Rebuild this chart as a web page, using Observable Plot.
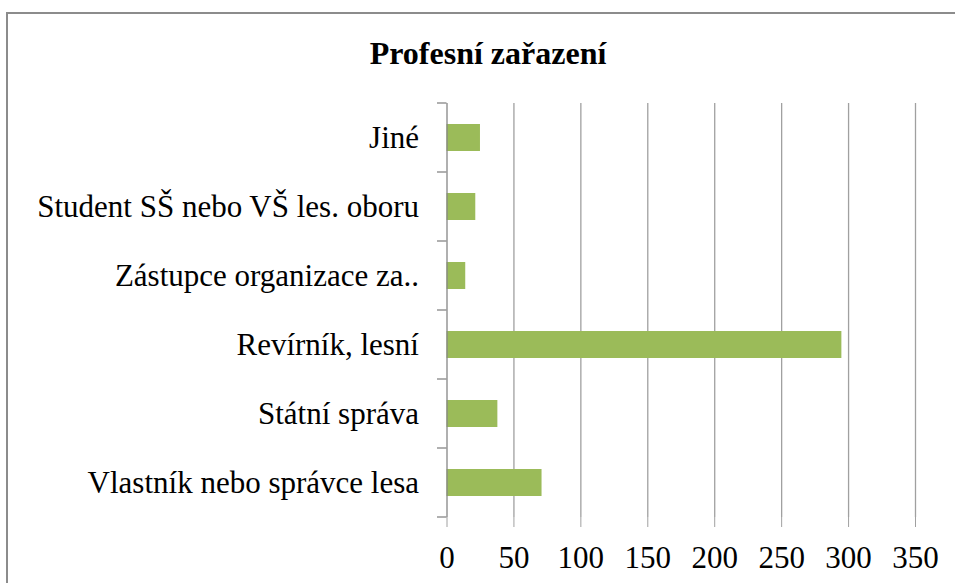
<!DOCTYPE html>
<html><head><meta charset="utf-8">
<script src="https://cdn.jsdelivr.net/npm/d3@7"></script>
<script src="https://cdn.jsdelivr.net/npm/@observablehq/plot@0.6"></script>
<style>
body{margin:0;background:#fff;width:955px;height:583px;overflow:hidden;position:relative;font-family:'Liberation Serif';}
#frame{position:absolute;left:6px;top:12px;width:1000px;height:700px;border-top:2px solid #8c8c8c;border-left:2px solid #8c8c8c;}
#title{position:absolute;left:488px;top:37px;transform:translateX(-50%);white-space:nowrap;font-family:'Liberation Serif';font-weight:bold;font-size:32px;line-height:32px;color:#000;}
#chart{position:absolute;left:0;top:80px;}
</style>
</head><body>
<div id="frame"></div>
<div id="title">Profesní zařazení</div>
<div id="chart"></div>
<script>
const categories = ["Jiné","Student SŠ nebo VŠ les. oboru","Zástupce organizace za..","Revírník, lesní","Státní správa","Vlastník nebo správce lesa"];
const values = [25, 21.5, 14, 295, 38, 71];
const xTicks = [0,50,100,150,200,250,300,350];

const data = categories.map((c,i)=>({cat:c, value:values[i]}));

const chart = Plot.plot({
  width: 955,
  height: 503,
  marginTop: 23,
  marginBottom: 66,
  marginLeft: 446.5,
  marginRight: 40,
  style: {fontFamily: "Liberation Serif", fontSize: "31px"},
  x: {domain: [0,350], ticks: xTicks, label: null},
  y: {domain: categories, paddingInner: 0.613, paddingOuter: 0.3065, label: null},
  marks: [
    Plot.ruleX(xTicks.slice(1), {stroke: "#a0a0a0", strokeWidth: 1.3}),
    Plot.barX(data, {y: "cat", x: "value", fill: "#9bbb59"}),
    Plot.ruleX([0], {stroke: "#868686", strokeWidth: 1.3}),
    Plot.ruleY([0], {frameAnchor: "bottom", stroke: "#a0a0a0", strokeWidth: 1.3}),
    Plot.axisX({ticks: xTicks, tickSize: 10, tickPadding: 18, stroke: "#a0a0a0", fill: "#000", fontSize: 31, fontFamily: "Liberation Serif", fontVariant: "normal", tickFormat: d=>String(d)}),
    Plot.axisY({tickSize: 0, tickPadding: 28, fill: "#000", fontSize: 31, fontFamily: "Liberation Serif"})
  ]
});
chart.style.background = "transparent";
chart.style.overflow = "visible";
document.getElementById("chart").appendChild(chart);

// boundary ticks on the category axis, computed from the band scale
const ys = chart.scale("y");
const n = categories.length;
const y0 = Math.min(...ys.range), y1 = Math.max(...ys.range);
const step = (y1 - y0) / n;
const xAxis = chart.scale("x").apply(0);
const g = d3.select(chart).append("g").attr("stroke","#868686").attr("stroke-width",1.3);
d3.range(n+1).forEach(k=>{
  const yy = y0 + k*step;
  g.append("line").attr("x1", xAxis-9.5).attr("x2", xAxis).attr("y1", yy).attr("y2", yy);
});
</script>
</body></html>
